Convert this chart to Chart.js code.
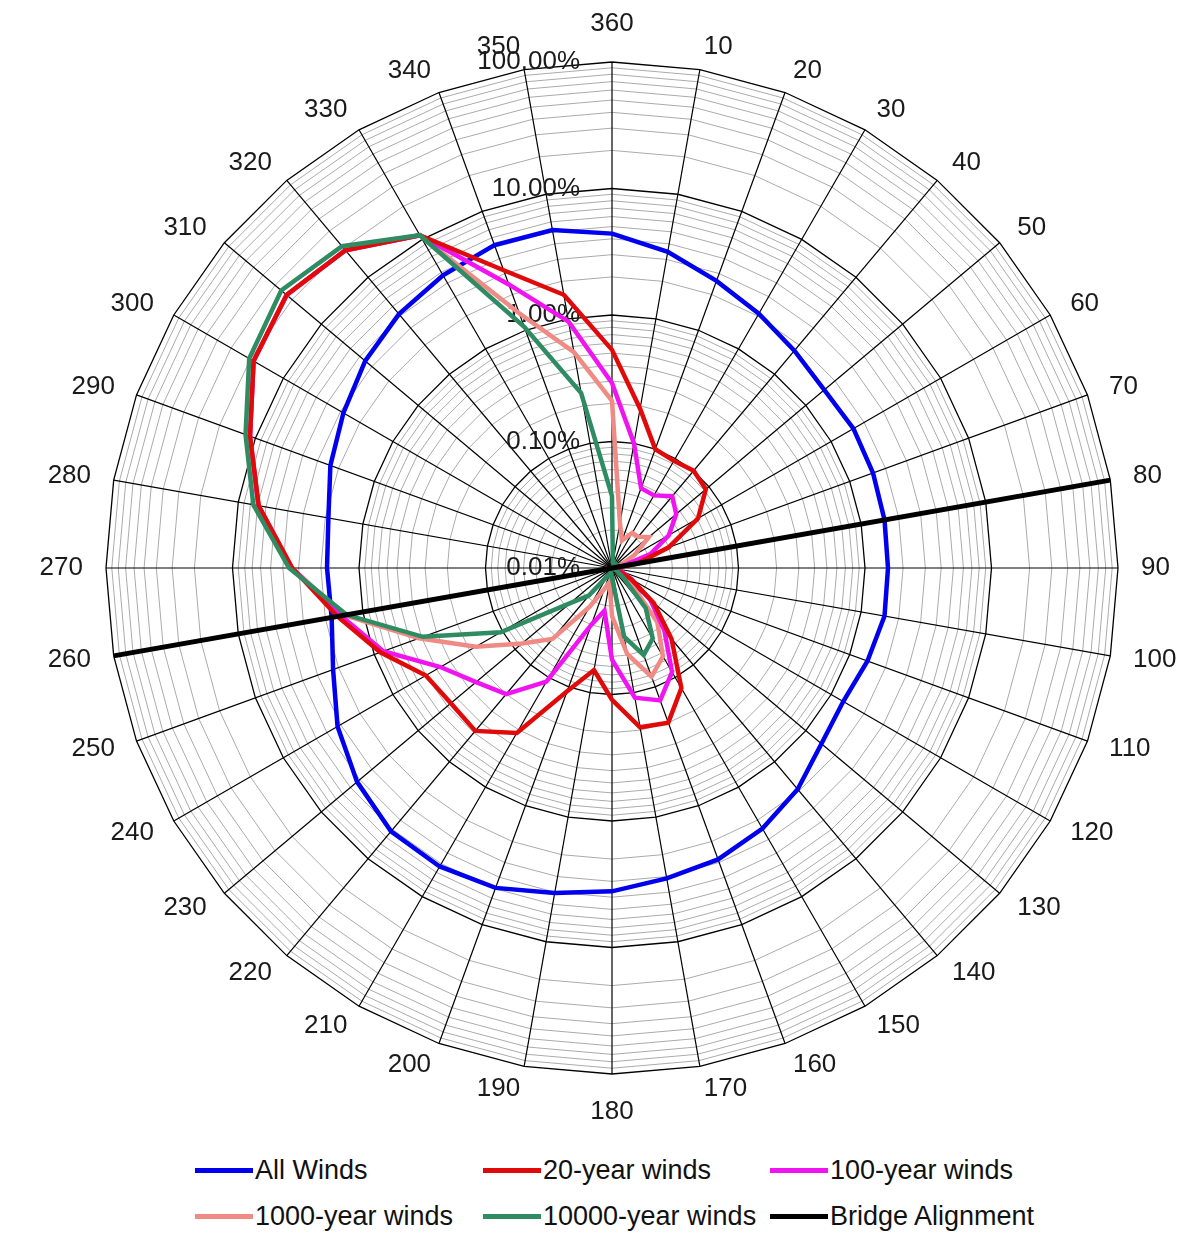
<!DOCTYPE html>
<html>
<head>
<meta charset="utf-8">
<script src="https://cdn.jsdelivr.net/npm/chart.js@4.4.1/dist/chart.umd.min.js"></script>
<style>
  html, body { margin: 0; padding: 0; background: #fff; }
  body { width: 1204px; height: 1240px; overflow: hidden; font-family: "Liberation Sans", Arial, sans-serif; }
  #legend { position: relative; height: 104px; }
  .item { position: absolute; display: flex; align-items: center; font-size: 27px; color: #111; line-height: 30px; white-space: nowrap; }
  .item i { display: inline-block; width: 58px; height: 5px; margin-right: 2px; }
</style>
</head>
<body>
<canvas id="myChart" width="1204" height="1136"></canvas>
<div id="legend"></div>
<script>
// wind directions, clockwise from north
const directions = ['360', '10', '20', '30', '40', '50', '60', '70', '80', '90', '100', '110',
  '120', '130', '140', '150', '160', '170', '180', '190', '200', '210', '220', '230',
  '240', '250', '260', '270', '280', '290', '300', '310', '320', '330', '340', '350'];

// percent of time per direction
const allWinds = [4.4, 3.45, 2.6, 2.1, 1.75, 1.55, 1.6, 1.57, 1.54, 1.52, 1.54, 1.41,
  1.29, 1.45, 1.92, 2.39, 2.83, 3.1, 3.6, 4.06, 4.91, 5.3, 5.22, 4.27,
  3.2, 2.22, 1.78, 1.79, 1.89, 2.34, 2.83, 3.52, 4.17, 4.7, 5.21, 5.17];
const winds20 = [0.53, 0.19, 0.1, 0.095, 0.101, 0.093, 0.061, 0.03, 0.016, 0.01, 0.01, 0.011,
  0.015, 0.027, 0.054, 0.125, 0.2, 0.19, 0.11, 0.066, 0.109, 0.32, 0.48, 0.46,
  0.5, 0.89, 1.6, 3.37, 6.85, 11.1, 18.7, 22.8, 19, 10.9, 3.2, 1.56];
const winds100 = [0.29, 0.1, 0.047, 0.046, 0.055, 0.046, 0.033, 0.021, 0.012, 0.01, 0.01, 0.012,
  0.015, 0.025, 0.044, 0.089, 0.13, 0.11, 0.053, 0.022, 0.03, 0.109, 0.2, 0.253,
  0.368, 0.84, 1.5, 3.4, 6.9, 11.1, 18.7, 22.8, 19, 10.9, 2.43, 0.95];
const winds1000 = [0.21, 0.023, 0.017, 0.021, 0.021, 0.024, 0.016, 0.012, 0.011, 0.01, 0.01, 0.011,
  0.012, 0.016, 0.036, 0.064, 0.082, 0.049, 0.024, 0.013, 0.015, 0.0225, 0.054, 0.085,
  0.175, 0.42, 1.4, 3.4, 6.9, 11.1, 18.7, 22.8, 19, 10.9, 1.39, 0.54];
const winds10000 = [0.037, 0.011, 0.011, 0.011, 0.011, 0.01, 0.01, 0.01, 0.01, 0.01, 0.01, 0.01,
  0.011, 0.013, 0.026, 0.044, 0.054, 0.0355, 0.012, 0.011, 0.011, 0.012, 0.0193, 0.027,
  0.104, 0.39, 1.35, 3.57, 7.57, 12.1, 20.5, 25.9, 20.9, 10.9, 1.07, 0.254];
const bridge = [0.01, 0.01, 0.01, 0.01, 0.01, 0.01, 0.01, 0.01, 100, 0.01, 0.01, 0.01,
  0.01, 0.01, 0.01, 0.01, 0.01, 0.01, 0.01, 0.01, 0.01, 0.01, 0.01, 0.01,
  0.01, 0.01, 100, 0.01, 0.01, 0.01, 0.01, 0.01, 0.01, 0.01, 0.01, 0.01];

const tickValues = [0.01, 0.1, 1, 10, 100];
const tickLabels = ['0.01%', '0.10%', '1.00%', '10.00%', '100.00%'];

// log axis: 0.01% sits at the centre, 100% on the rim
const toR = v => Math.log10(v) + 2;

const gridValues = [];
for (let n = -2; n <= 1; n++) {
  for (let k = 1; k <= 9; k++) gridValues.push(toR(k * Math.pow(10, n)));
}
gridValues.push(toR(100));

const isMajor = v => Math.abs(v - Math.round(v)) < 1e-9;
const FONT = '26px "Liberation Sans", Arial, sans-serif';

const textPlugin = {
  id: 'polarText',
  beforeDatasetsDraw(chart) {
    const s = chart.scales.r;
    const ctx = chart.ctx;
    ctx.save();
    ctx.font = FONT;
    ctx.fillStyle = '#1a1a1a';
    ctx.textBaseline = 'middle';
    directions.forEach((lab, i) => {
      const deg = i * 10;
      const p = s.getPointPosition(i, s.drawingArea + 23);
      let y = p.y;
      if (deg === 0) y -= 15;
      if (deg === 180) y += 15;
      ctx.textAlign = (deg === 0 || deg === 180) ? 'center' : (deg < 180 ? 'left' : 'right');
      ctx.fillText(lab, p.x, y);
    });
    ctx.textAlign = 'right';
    tickValues.forEach((v, i) => {
      const y = s.yCenter - s.getDistanceFromCenterForValue(toR(v));
      ctx.fillText(tickLabels[i], s.xCenter - 32, y);
    });
    ctx.restore();
  }
};

const series = [
  { label: 'All Winds', data: allWinds, color: '#0000ee', width: 4.5, order: 5 },
  { label: '20-year winds', data: winds20, color: '#e10a0a', width: 4.5, order: 2 },
  { label: '100-year winds', data: winds100, color: '#f014f0', width: 4.5, order: 3 },
  { label: '1000-year winds', data: winds1000, color: '#f08a84', width: 4.5, order: 4 },
  { label: '10000-year winds', data: winds10000, color: '#2f8b62', width: 4.5, order: 1 },
  { label: 'Bridge Alignment', data: bridge, color: '#000000', width: 5, order: 0 }
];

new Chart(document.getElementById('myChart'), {
  type: 'radar',
  data: {
    labels: directions,
    datasets: series.map(s => ({
      label: s.label,
      data: s.data.map(toR),
      borderColor: s.color,
      backgroundColor: s.color,
      borderWidth: s.width,
      pointRadius: 0,
      pointHoverRadius: 0,
      fill: false,
      tension: 0,
      order: s.order
    }))
  },
  options: {
    responsive: false,
    animation: false,
    devicePixelRatio: 1,
    layout: { padding: { top: 62, bottom: 62, left: 106, right: 86 } },
    plugins: { legend: { display: false }, tooltip: { enabled: false } },
    scales: {
      r: {
        min: 0,
        max: 4,
        afterBuildTicks: scale => { scale.ticks = gridValues.map(v => ({ value: v })); },
        ticks: { display: false },
        pointLabels: { display: false },
        angleLines: { color: '#000', lineWidth: 1.2 },
        grid: {
          color: c => isMajor(c.tick.value) ? '#000' : '#ababab',
          lineWidth: c => isMajor(c.tick.value) ? 1.3 : 1
        }
      }
    }
  },
  plugins: [textPlugin]
});

// legend in three columns, two rows
const legend = document.getElementById('legend');
const cols = [195, 483, 770];
series.forEach((s, i) => {
  const d = document.createElement('div');
  d.className = 'item';
  d.style.left = cols[i % 3] + 'px';
  d.style.top = (i < 3 ? 19 : 65) + 'px';
  d.innerHTML = '<i style="background:' + s.color + '"></i>' + s.label;
  legend.appendChild(d);
});
</script>
</body>
</html>
